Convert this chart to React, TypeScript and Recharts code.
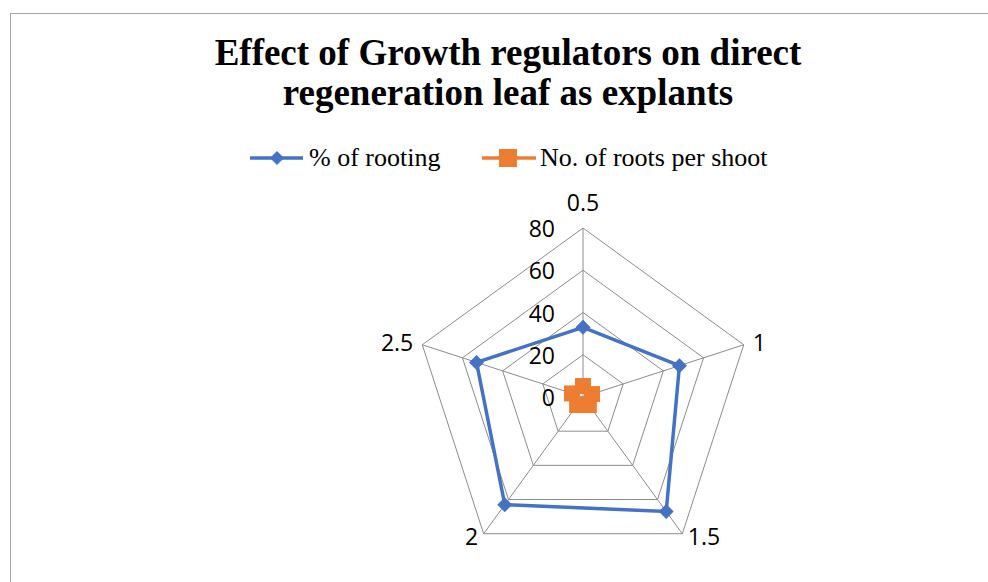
import React from 'react';
import { RadarChart, Radar, PolarGrid, PolarAngleAxis, PolarRadiusAxis } from 'recharts';

const concentrations = ['0.5', '1', '1.5', '2', '2.5'];
const rootingPercent = [33, 48, 67, 63, 53];
const rootsPerShoot = [5.2, 4.5, 4.7, 4.7, 5.5];
const radiusTicks = [0, 20, 40, 60, 80];

const BLUE = '#4472C4';
const ORANGE = '#ED7D31';
const GRID = '#8c8c8c';
const CX = 583;
const CY = 397;
const R = 169;

const data = concentrations.map((c, i) => ({
  name: c,
  rooting: rootingPercent[i],
  roots: rootsPerShoot[i],
}));

const Diamond = (props: any) => {
  const { cx, cy, index } = props;
  if (cx == null || cy == null) return null;
  return (
    <path
      key={`diamond-${index}`}
      d={`M${cx},${cy - 7.5}L${cx + 7.5},${cy}L${cx},${cy + 7.5}L${cx - 7.5},${cy}Z`}
      fill={BLUE}
    />
  );
};

const Square = (props: any) => {
  const { cx, cy, index } = props;
  if (cx == null || cy == null) return null;
  return <rect key={`square-${index}`} x={cx - 8} y={cy - 8} width={16} height={16} fill={ORANGE} />;
};

const AngleTick = (props: any) => {
  const { payload } = props;
  const a = (payload.coordinate * Math.PI) / 180;
  const cos = Math.cos(a);
  const sin = Math.sin(a);
  const vx = CX + R * cos;
  const vy = CY - R * sin;
  let x = vx;
  let y = vy - 26;
  let anchor: 'start' | 'middle' | 'end' = 'middle';
  if (Math.abs(cos) > 0.01) {
    const upper = sin > 0;
    anchor = cos > 0 ? 'start' : 'end';
    x = vx + (cos > 0 ? 1 : -1) * (upper ? 9 : 5.5);
    y = vy + (upper ? -3 : 2.5);
  }
  return (
    <text x={x} y={y} textAnchor={anchor} dominantBaseline="central" fill="#000" fontSize={23} fontFamily="'Open Sans', sans-serif">
      {payload.value}
    </text>
  );
};

const RadiusTick = (props: any) => {
  const { x, y, payload } = props;
  return (
    <text x={x - 28} y={y} textAnchor="end" dominantBaseline="central" fill="#000" fontSize={23} fontFamily="'Open Sans', sans-serif">
      {payload.value}
    </text>
  );
};

const legendText: React.CSSProperties = {
  position: 'absolute',
  top: 143,
  fontFamily: "'Liberation Serif', 'Times New Roman', serif",
  fontSize: 26,
  lineHeight: '30px',
  color: '#000',
  whiteSpace: 'nowrap',
};

export default function App() {
  return (
    <div style={{ position: 'fixed', left: 0, top: 0, width: 988, height: 582, background: '#fff', overflow: 'hidden' }}>
      {/* chart area border */}
      <div style={{ position: 'absolute', left: 10, top: 13, width: 1000, height: 600, borderTop: '1px solid #a6a6a6', borderLeft: '1px solid #a6a6a6' }} />

      <div
        style={{
          position: 'absolute',
          left: 0,
          top: 33,
          width: 1016,
          textAlign: 'center',
          fontFamily: "'Liberation Serif', 'Times New Roman', serif",
          fontWeight: 'bold',
          fontSize: 37,
          lineHeight: '40px',
          color: '#000',
        }}
      >
        Effect of Growth regulators on direct
        <br />
        regeneration leaf as explants
      </div>

      {/* legend */}
      <svg style={{ position: 'absolute', left: 0, top: 0 }} width={988} height={200}>
        <line x1={250} y1={158} x2={303} y2={158} stroke={BLUE} strokeWidth={3.5} />
        <path d="M277,151L284,158L277,165L270,158Z" fill={BLUE} />
        <line x1={482} y1={158} x2={536} y2={158} stroke={ORANGE} strokeWidth={3.5} />
        <rect x={499} y={149} width={18} height={18} fill={ORANGE} />
      </svg>
      <div style={{ ...legendText, left: 309 }}>% of rooting</div>
      <div style={{ ...legendText, left: 540 }}>No. of roots per shoot</div>

      <div style={{ position: 'absolute', left: 0, top: 0 }}>
        <RadarChart
          width={988}
          height={582}
          data={data}
          cx={CX}
          cy={CY}
          outerRadius={R}
          margin={{ top: 0, right: 0, bottom: 0, left: 0 }}
        >
          <PolarGrid gridType="polygon" stroke={GRID} strokeWidth={1} />
          <PolarAngleAxis dataKey="name" tick={AngleTick} axisLine={false} tickLine={false} />
          <PolarRadiusAxis
            angle={90}
            domain={[0, 80]}
            ticks={radiusTicks as any}
            tickCount={5}
            axisLine={false}
            tick={RadiusTick}
          />
          <Radar
            dataKey="rooting"
            stroke={BLUE}
            strokeWidth={3.5}
            fill="none"
            fillOpacity={0}
            dot={Diamond}
            isAnimationActive={false}
          />
          <Radar
            dataKey="roots"
            stroke={ORANGE}
            strokeWidth={3}
            fill="none"
            fillOpacity={0}
            dot={Square}
            isAnimationActive={false}
          />
        </RadarChart>
      </div>
    </div>
  );
}
